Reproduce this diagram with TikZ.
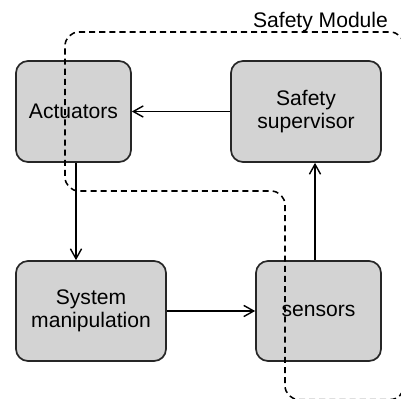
\documentclass[tikz,border=0pt]{standalone}
\usepackage{fontspec}
\setmainfont{Liberation Sans}
\usetikzlibrary{arrows.meta}
\definecolor{boxgray}{RGB}{211,211,211}
\begin{document}
\begin{tikzpicture}[
    block/.style={draw=black!85, fill=boxgray, line width=1.2pt, rounded corners=0.3cm, align=center, inner sep=0pt},
    link/.style={line width=1pt, -{Straight Barb[length=2.5mm,width=2.8mm]}},
    module/.style={dash pattern=on 4.3pt off 2.9pt, line width=1.1pt, rounded corners=0.35cm},
    font=\fontsize{15}{16.6}\selectfont]
        \useasboundingbox (0,0) rectangle (10.025,9.95);
        \clip (0,0) rectangle (10.025,9.95);

        \node[block, minimum width=2.875cm, minimum height=2.525cm] (act) at (1.8375, 7.1625) {Actuators};
        \node[block, minimum width=3.75cm, minimum height=2.525cm] (sup) at (7.65, 7.1625) {Safety\\supervisor};
        \node[block, minimum width=3.75cm, minimum height=2.5cm] (sysman) at (2.275, 2.175) {System\\manipulation};
        \node[block, minimum width=3.125cm, minimum height=2.5cm] (sens) at (7.9625, 2.175) {sensors};

        \coordinate (actx) at (1.9, 0);
        \coordinate (sensx) at (7.875, 0);

        \draw[link] (sup) -- (act);
        \draw[link] (act.south -| actx) -- (sysman.north -| actx);
        \draw[link] (sysman) -- (sens);
        \draw[link] (sens.north -| sensx) -- (sup.south -| sensx);

        \draw[module] (1.625, 9.15) -- (10.1, 9.15) -- (10.1, -0.04) -- (7.125, -0.04)
            -- (7.125, 5.175) -- (1.625, 5.175) -- cycle;
        \node[anchor=base] (modlabel) at (8.0125, 9.275) {Safety Module};
      \end{tikzpicture}
\end{document}
